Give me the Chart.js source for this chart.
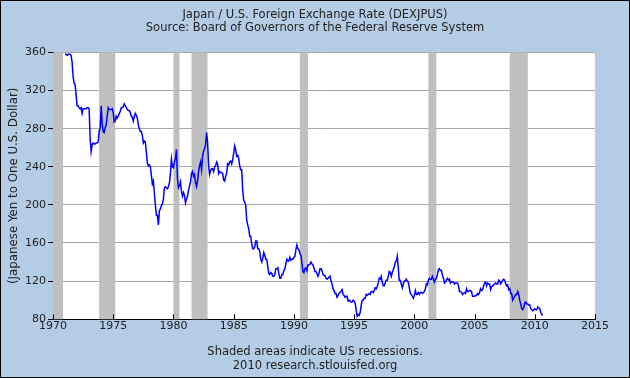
<!DOCTYPE html>
<html>
<head>
<meta charset="utf-8">
<script src="https://cdn.jsdelivr.net/npm/chart.js@4"></script>
<style>
html,body{margin:0;padding:0;background:#b4cde4;}
#wrap{position:relative;width:630px;height:378px;}
#ramis{position:absolute;left:0;top:0;width:630px;height:378px;box-sizing:border-box;border:1px solid #000;pointer-events:none;}
canvas{display:block;}
</style>
</head>
<body>
<div id="wrap"><canvas id="grafiks" width="630" height="378"></canvas><div id="ramis"></div></div>
<script>
// monthly yen per dollar (Jan..Dec)
const sakumaGads = 1971;
const kursi1970 = [
    358, 358, 357, 358, 358, 358, 357, 350, 335, 328, 326, 316,
    304, 304, 302, 301, 302, 296, 301, 301, 301, 301, 302, 302,
    301, 270, 256, 263, 265, 264, 264, 265, 265, 266, 278, 280,
    304, 285, 277, 276, 281, 284, 293, 302, 300, 300, 300, 301,
    297, 287, 288, 293, 291, 293, 296, 298, 302, 302, 303, 306,
    304, 302, 300, 299, 299, 297, 293, 292, 288, 293, 296, 294,
    291, 284, 280, 277, 277, 273, 265, 267, 266, 255, 244, 241,
    242, 240, 231, 222, 225, 212, 200, 189, 189, 179, 194, 196,
    199, 201, 206, 218, 219, 218, 217, 219, 223, 233, 248, 240];
const kursi1980 = [
    239, 245, 249, 258, 228, 218, 220, 224, 214, 209, 213, 210,
    202, 206, 209, 215, 220, 224, 233, 235, 230, 232, 223, 219,
    225, 235, 241, 245, 237, 251, 256, 259, 263, 276, 266, 242,
    232, 236, 238, 238, 235, 240, 241, 245, 243, 233, 235, 234,
    234, 233, 226, 225, 230, 233, 243, 242, 245, 246, 243, 247,
    254, 262, 258, 251, 252, 249, 241, 237, 237, 215, 205, 203,
    200, 184, 179, 175, 167, 167, 159, 154, 154, 156, 162, 162,
    154, 154, 151, 143, 140, 144, 150, 147, 143, 143, 135, 128,
    127, 129, 128, 125, 125, 127, 133, 133, 134, 128, 123, 123,
    127, 127, 131, 133, 138, 143, 141, 141, 145, 142, 143, 143];
const kursi1990 = [
    145, 146, 153, 158, 154, 153, 149, 147, 139, 130, 129, 133,
    134, 131, 137, 137, 138, 140, 138, 137, 134, 130, 130, 128,
    125, 128, 133, 133, 131, 127, 126, 126, 123, 122, 123, 124,
    125, 120, 117, 112, 110, 107, 107, 103, 105, 107, 108, 109,
    111, 106, 105, 103, 104, 104, 99, 100, 99, 98, 98, 100,
    99, 97, 90, 83, 85, 84, 87, 94, 100, 100, 102, 102,
    106, 105, 106, 107, 106, 109, 109, 108, 110, 113, 112, 114,
    118, 123, 122, 125, 119, 115, 115, 118, 121, 121, 125, 130,
    129, 125, 129, 132, 135, 140, 141, 146, 134, 121, 121, 117,
    113, 117, 120, 120, 122, 120, 119, 113, 107, 106, 104, 102];
const kursi2000 = [
    105, 110, 106, 106, 108, 106, 108, 108, 107, 108, 109, 112,
    117, 116, 121, 123, 122, 122, 125, 122, 119, 122, 123, 127,
    132, 133, 131, 131, 126, 123, 118, 119, 121, 123, 121, 122,
    118, 119, 119, 119, 117, 118, 118, 118, 115, 109, 109, 108,
    106, 107, 108, 107, 112, 109, 109, 110, 110, 109, 104, 104,
    104, 105, 105, 107, 106, 108, 112, 110, 111, 115, 118, 119,
    115, 118, 117, 117, 111, 114, 115, 116, 117, 118, 117, 117,
    121, 120, 117, 119, 121, 122, 121, 117, 115, 116, 111, 112,
    107, 107, 100, 102, 104, 106, 106, 109, 106, 100, 96, 91,
    90, 92, 97, 98, 96, 96, 95, 95, 91, 90, 89, 90];
const kursi2010 = [91, 90, 90, 93, 92, 91, 87, 85, 84];

// US recessions, start and end as decimal years
const recesijuSakumi = [1969.92, 1973.83, 1980.0, 1981.5, 1990.5, 2001.17, 2007.92];
const recesijuBeigas = [1970.83, 1975.17, 1980.5, 1982.83, 1991.17, 2001.83, 2009.42];

const gaduTicki = [1970, 1975, 1980, 1985, 1990, 1995, 2000, 2005, 2010, 2015];
const kursuTicki = [80, 120, 160, 200, 240, 280, 320, 360];

const visiKursi = kursi1970.concat(kursi1980, kursi1990, kursi2000, kursi2010);
const punkti = visiKursi.map((v, i) => ({x: sakumaGads + i / 12, y: v}));

const fonts = 'DejaVu Sans, Verdana, sans-serif';

const fonaSpraudnis = {
    id: 'fons',
    beforeDraw(chart) {
        const {ctx, chartArea: a} = chart;
        ctx.save();
        ctx.fillStyle = '#ffffff';
        ctx.fillRect(a.left, a.top, a.right - a.left, a.bottom - a.top);
        ctx.restore();},
    beforeDatasetsDraw(chart) {
        const {ctx, chartArea: a, scales: {x}} = chart;
        ctx.save();
        ctx.fillStyle = '#bfbfbf';
        recesijuSakumi.forEach((s, i) => {
            const x0 = Math.max(x.getPixelForValue(s), a.left);
            const x1 = x.getPixelForValue(recesijuBeigas[i]);
            ctx.fillRect(x0, a.top, x1 - x0, a.bottom - a.top);});
        ctx.restore();},
    afterDatasetsDraw(chart) {
        const {ctx, chartArea: a, scales: {x}} = chart;
        ctx.save();
        ctx.strokeStyle = '#000';
        ctx.lineWidth = 1;
        ctx.beginPath();
        gaduTicki.forEach(g => {
            const px = Math.round(x.getPixelForValue(g)) + 0.5;
            ctx.moveTo(px, a.bottom);
            ctx.lineTo(px, a.bottom - 5);});
        ctx.stroke();
        ctx.restore();}};

new Chart(document.getElementById('grafiks'), {
    type: 'line',
    data: {
        datasets: [{
            data: punkti,
            borderColor: '#0000ff',
            borderWidth: 1.5,
            pointRadius: 0,
            tension: 0,
            fill: false}]},
    options: {
        responsive: false,
        animation: false,
        layout: {padding: 0},
        scales: {
            x: {
                type: 'linear', min: 1970, max: 2015,
                afterBuildTicks: s => { s.ticks = gaduTicki.map(v => ({value: v})); },
                ticks: {callback: v => String(v), color: '#222', font: {family: fonts, size: 11}, padding: 0, maxRotation: 0, autoSkip: false},
                grid: {display: false, drawTicks: false, tickLength: 0},
                border: {display: true, color: '#000', width: 1}},
            y: {
                min: 80, max: 360,
                afterBuildTicks: s => { s.ticks = kursuTicki.map(v => ({value: v})); },
                afterFit: s => { s.width = 53; },
                ticks: {color: '#222', font: {family: fonts, size: 11}, padding: 2},
                grid: {color: '#a8a8a8', lineWidth: 1, tickColor: '#000', tickLength: 5},
                border: {display: true, color: '#000', width: 1},
                title: {display: true, text: '(Japanese Yen to One U.S. Dollar)', color: '#222', font: {family: fonts, size: 11.8, weight: 'normal'}, padding: {top: 7, bottom: 2}}},
            labaMala: {
                position: 'right', min: 80, max: 360,
                afterFit: s => { s.width = 35; },
                ticks: {display: false},
                grid: {display: false, drawTicks: false},
                border: {display: false}}},
        plugins: {
            legend: {display: false},
            tooltip: {enabled: false},
            title: {
                display: true,
                text: ['Japan / U.S. Foreign Exchange Rate (DEXJPUS)', 'Source: Board of Governors of the Federal Reserve System'],
                color: '#222',
                font: {family: fonts, size: 11.5, weight: 'normal', lineHeight: 1.15},
                padding: {top: 8, bottom: 18}},
            subtitle: {
                display: true,
                position: 'bottom',
                text: ['Shaded areas indicate US recessions.', '2010 research.stlouisfed.org'],
                color: '#222',
                font: {family: fonts, size: 11.5, weight: 'normal', lineHeight: 1.2},
                padding: {top: 13, bottom: 5}}}},
    plugins: [fonaSpraudnis]});
</script>
</body>
</html>
